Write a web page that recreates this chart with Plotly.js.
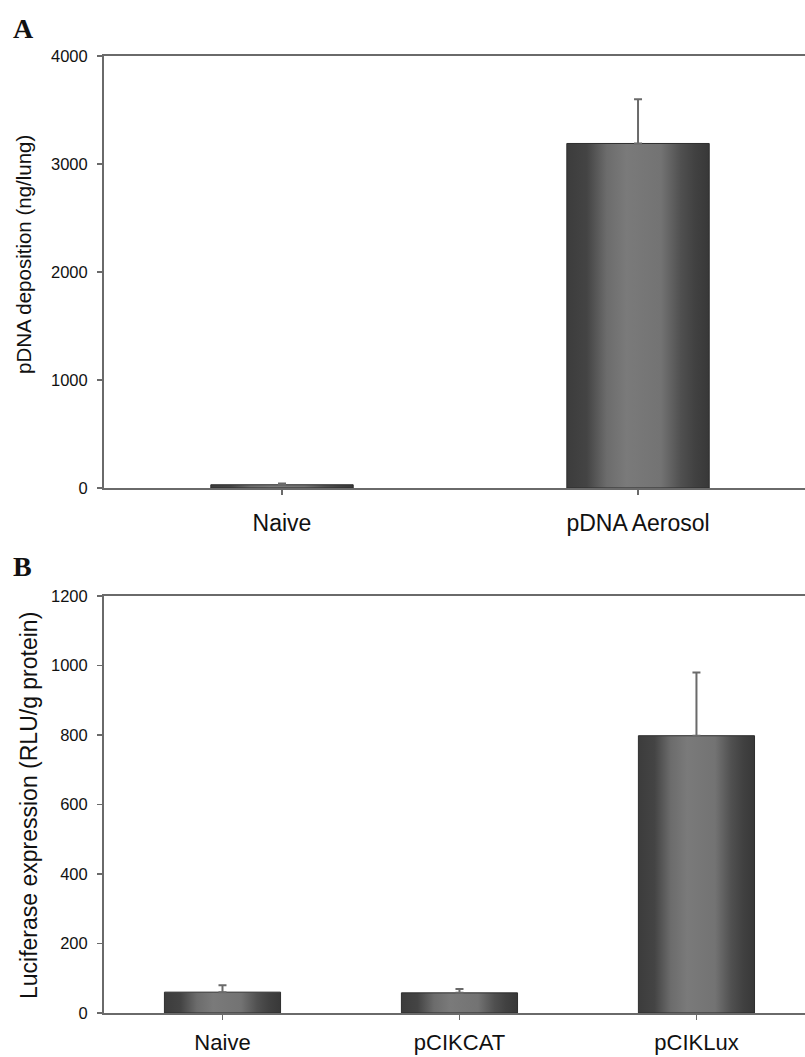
<!DOCTYPE html>
<html>
<head>
<meta charset="utf-8">
<script src="https://cdn.plot.ly/plotly-3.0.1.min.js"></script>
<style>
  html, body { margin: 0; padding: 0; background: #fff; overflow: hidden; }
  #chart { width: 805px; height: 1057px; }
</style>
</head>
<body>
<div id="chart"></div>
<script>
// ---- Data ----
const categoriesA = ['Naive', 'pDNA Aerosol'];
const depositionA = [30, 3190];
const depositionErrA = [12, 410];
const ticksA = [0, 1000, 2000, 3000, 4000];

const categoriesB = ['Naive', 'pCIKCAT', 'pCIKLux'];
const expressionB = [60, 58, 798];
const expressionErrB = [20, 11, 182];
const ticksB = [0, 200, 400, 600, 800, 1000, 1200];

const panelLabels = ['A', 'B'];
const titleA = 'pDNA deposition (ng/lung)';
const titleB = 'Luciferase expression (RLU/g protein)';

// ---- Styling ----
const axisGray = '#6a6a6a';
const textColor = '#111111';
const font = 'Liberation Sans, Arial, sans-serif';
const serif = 'Liberation Serif, Times New Roman, serif';

function barTrace(x, y, err, xa, ya, width) {
  return {
    type: 'bar', x: x, y: y, xaxis: xa, yaxis: ya, width: width,
    marker: { color: '#5a5a5a', line: { color: '#2e2e2e', width: 1 } },
    error_y: { type: 'data', symmetric: false, array: err, arrayminus: err.map(() => 0),
               color: axisGray, thickness: 2, width: 4 },
    hoverinfo: 'x+y', showlegend: false
  };
}

const data = [
  barTrace(categoriesA, depositionA, depositionErrA, 'x', 'y', 0.4),
  barTrace(categoriesB, expressionB, expressionErrB, 'x2', 'y2', 0.49)
];

function yAxis(domain, range, ticks, anchor) {
  return {
    domain: domain, range: range, anchor: anchor,
    tickmode: 'array', tickvals: ticks, ticktext: ticks.map(String),
    showgrid: false, zeroline: false,
    showline: true, linecolor: axisGray, linewidth: 2,
    ticks: 'outside', ticklen: 5, tickwidth: 1.5, tickcolor: axisGray,
    ticklabelstandoff: 6,
    tickfont: { family: font, size: 16.5, color: textColor },
    fixedrange: true
  };
}
function xAxis(range, anchor, standoff, size) {
  return {
    type: 'category', range: range, anchor: anchor,
    showgrid: false, zeroline: false,
    showline: true, linecolor: axisGray, linewidth: 2, mirror: true,
    ticks: 'outside', ticklen: 5, tickwidth: 1.5, tickcolor: axisGray,
    ticklabelstandoff: standoff,
    tickfont: { family: font, size: size, color: textColor },
    fixedrange: true
  };
}

const layout = {
  width: 805, height: 1057,
  margin: { l: 104, r: 0, t: 56, b: 44 },
  paper_bgcolor: '#ffffff', plot_bgcolor: 'rgba(0,0,0,0)',
  xaxis: xAxis([-0.5, 1.469], 'y', 8, 23),
  yaxis: yAxis([0.5486, 1], [0, 4000], ticksA, 'x'),
  xaxis2: xAxis([-0.5, 2.458], 'y2', 4, 22),
  yaxis2: yAxis([0, 0.4357], [0, 1200], ticksB, 'x2'),
  annotations: [
    { text: '<b>' + panelLabels[0] + '</b>', xref: 'paper', yref: 'paper',
      x: -0.1333, y: 1.0, xanchor: 'left', yanchor: 'bottom', yshift: 10, showarrow: false,
      font: { family: serif, size: 28, color: '#111' } },
    { text: '<b>' + panelLabels[1] + '</b>', xref: 'paper', yref: 'paper',
      x: -0.1333, y: 0.4357, xanchor: 'left', yanchor: 'bottom', yshift: 12, showarrow: false,
      font: { family: serif, size: 28, color: '#111' } },
    { text: titleA, xref: 'paper', yref: 'paper', textangle: -90,
      x: -0.1141, y: 0.7921, xanchor: 'center', yanchor: 'middle', showarrow: false,
      font: { family: font, size: 20.5, color: textColor } },
    { text: titleB, xref: 'paper', yref: 'paper', textangle: -90,
      x: -0.1070, y: 0.2173, xanchor: 'center', yanchor: 'middle', showarrow: false,
      font: { family: font, size: 23, color: textColor } }
  ]
};

Plotly.newPlot('chart', data, layout, { displayModeBar: false, staticPlot: true }).then(function (gd) {
  // cylinder-like horizontal shading of the bars
  const svg = gd.querySelector('svg.main-svg');
  const NS = 'http://www.w3.org/2000/svg';
  let defs = svg.querySelector('defs');
  if (!defs) { defs = document.createElementNS(NS, 'defs'); svg.insertBefore(defs, svg.firstChild); }
  const grad = document.createElementNS(NS, 'linearGradient');
  grad.setAttribute('id', 'barShade');
  grad.setAttribute('x1', '0'); grad.setAttribute('x2', '1');
  grad.setAttribute('y1', '0'); grad.setAttribute('y2', '0');
  const stops = [[0, '#3c3c3c'], [0.14, '#444444'], [0.28, '#6c6c6c'], [0.42, '#7a7a7a'],
                 [0.66, '#737373'], [0.8, '#505050'], [0.9, '#414141'], [1, '#383838']];
  stops.forEach(function (s) {
    const st = document.createElementNS(NS, 'stop');
    st.setAttribute('offset', s[0]);
    st.setAttribute('stop-color', s[1]);
    grad.appendChild(st);
  });
  defs.appendChild(grad);
  gd.querySelectorAll('.barlayer .point path').forEach(function (p) {
    p.style.fill = 'url(#barShade)';
  });
});
</script>
</body>
</html>
